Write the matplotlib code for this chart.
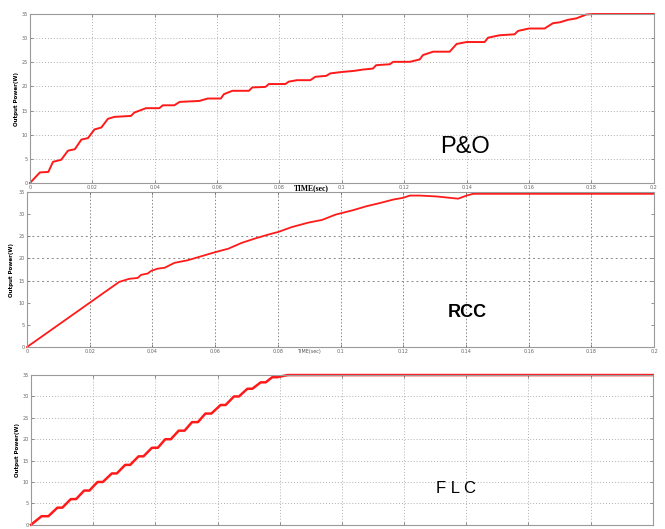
import numpy as np
import matplotlib
matplotlib.use('Agg')
import matplotlib.pyplot as plt

# P&O output power (W) vs time (s)
po_t = [0, 0.0032, 0.0059, 0.0074, 0.010, 0.0122, 0.0144, 0.0165, 0.0186, 0.0207,
        0.0229, 0.025, 0.0271, 0.0324, 0.0335, 0.0372, 0.0415, 0.0426, 0.0463, 0.048,
        0.0543, 0.057, 0.0612, 0.0622, 0.0649, 0.0702, 0.0713, 0.0755, 0.0766, 0.0819,
        0.083, 0.0856, 0.0899, 0.0915, 0.095, 0.0963, 0.1, 0.1036, 0.1068, 0.110,
        0.111, 0.1154, 0.1165, 0.1218, 0.125, 0.126, 0.1293, 0.1346, 0.1368, 0.14,
        0.1458, 0.1469, 0.1506, 0.1554, 0.1565, 0.160, 0.165, 0.1677, 0.170, 0.1725,
        0.1752, 0.1784, 0.1805, 0.2]
po_p = [0, 2.2, 2.3, 4.4, 4.8, 6.7, 7.0, 9.0, 9.3, 11.1,
        11.5, 13.3, 13.7, 13.9, 14.6, 15.5, 15.5, 16.1, 16.1, 16.8,
        17.0, 17.5, 17.5, 18.4, 19.1, 19.1, 19.8, 19.9, 20.5, 20.5,
        21.0, 21.3, 21.3, 22.0, 22.2, 22.7, 23.0, 23.2, 23.5, 23.7,
        24.4, 24.6, 25.1, 25.1, 25.6, 26.5, 27.2, 27.2, 28.8, 29.2,
        29.2, 30.1, 30.6, 30.8, 31.5, 32.0, 32.0, 33.1, 33.3, 33.8,
        34.1, 34.9, 35.0, 35.0]

# RCC
rcc_t = [0, 0.0198, 0.0294, 0.0326, 0.0353, 0.0364, 0.0385, 0.0396, 0.0417, 0.0439,
         0.047, 0.0513, 0.0556, 0.0599, 0.0642, 0.0684, 0.0727, 0.077, 0.0802, 0.0845,
         0.0898, 0.0941, 0.0984, 0.104, 0.1083, 0.1125, 0.1168, 0.12, 0.1221, 0.1253,
         0.1306, 0.1375, 0.1402, 0.1423, 0.2]
rcc_p = [0, 9.9, 14.7, 15.4, 15.6, 16.3, 16.6, 17.2, 17.7, 17.9,
         19.0, 19.6, 20.5, 21.4, 22.2, 23.5, 24.5, 25.4, 26.0, 27.1,
         28.1, 28.7, 29.9, 30.9, 31.8, 32.5, 33.3, 33.7, 34.2, 34.2,
         34.0, 33.5, 34.2, 34.6, 34.6]

# FLC
flc_t = [0, 0.0034, 0.0056, 0.0085, 0.0101, 0.0128, 0.0145, 0.0171, 0.0188, 0.0214,
         0.0231, 0.026, 0.0276, 0.0303, 0.0319, 0.0346, 0.0362, 0.0389, 0.0408, 0.0432,
         0.045, 0.0475, 0.0494, 0.0518, 0.0537, 0.0561, 0.058, 0.061, 0.0626, 0.0653,
         0.0669, 0.0696, 0.0712, 0.0739, 0.0755, 0.0776, 0.0792, 0.0825, 0.2]
flc_p = [0, 2, 2, 4, 4, 6, 6, 8, 8, 10,
         10, 12, 12, 14, 14, 16, 16, 18, 18, 20,
         20, 22, 22, 24, 24, 26, 26, 28, 28, 30,
         30, 31.8, 31.8, 33.3, 33.3, 34.5, 34.5, 35, 35]

x_ticks = [0, 0.02, 0.04, 0.06, 0.08, 0.1, 0.12, 0.14, 0.16, 0.18, 0.2]
x_labels = ['0', '0.02', '0.04', '0.06', '0.08', '0.1', '0.12', '0.14', '0.16', '0.18', '0.2']
y_ticks = [0, 5, 10, 15, 20, 25, 30, 35]

fig = plt.figure(figsize=(6.65, 5.29), dpi=100)

ax1 = fig.add_axes([0.045, 0.654, 0.938, 0.3195])
ax2 = fig.add_axes([0.0406, 0.344, 0.943, 0.293])
ax3 = fig.add_axes([0.0466, 0.008, 0.935, 0.283])


def style(ax):
    ax.set_xlim(0, 0.2)
    ax.set_ylim(0, 35)
    ax.set_xticks(x_ticks)
    ax.set_xticklabels(x_labels)
    ax.set_yticks(y_ticks)
    ax.tick_params(labelsize=3.5, colors='#666666', length=2, width=0.5,
                   direction='in', pad=1.5, top=True, right=True)
    for s in ax.spines.values():
        s.set_color('#9a9a9a')
        s.set_linewidth(0.8)


for ax in (ax1, ax3):
    style(ax)
    ax.grid(True, color='#b0b0b0', linestyle=(0, (1, 2)), linewidth=0.7)
    ax.set_ylabel('Output Power(W)', fontsize=4, fontweight='bold', labelpad=2)

# the bottom plot's x tick labels fall below the picture edge in the reference
ax3.tick_params(labelbottom=False)

style(ax2)
ax2.xaxis.grid(True, color='#888888', linestyle=(0, (1.5, 2)), linewidth=0.7)
for yv in [15, 20, 25]:
    ax2.axhline(yv, color='#888888', linestyle=(0, (2, 3)), linewidth=0.7, zorder=0)
ax2.set_ylabel('Output Power(W)', fontsize=4, fontweight='bold', labelpad=3)

ax1.plot(po_t, po_p, color='#ff1a1a', linewidth=1.4, clip_on=False)
ax2.plot(rcc_t, rcc_p, color='#ff1a1a', linewidth=1.3, clip_on=False)
ax3.plot(flc_t, flc_p, color='#ff1a1a', linewidth=1.8, clip_on=False)

ax1.set_xlabel('TIME(sec)', fontsize=5.5, fontweight='bold', family='Liberation Serif')
ax1.xaxis.set_label_coords(0.452, -0.005)
ax2.set_xlabel('TIME(sec)', fontsize=3.5, color='#555555')
ax2.xaxis.set_label_coords(0.45, -0.015)

ax1.text(0.698, 0.215, 'P&O', transform=ax1.transAxes, fontsize=17,
         ha='center', va='center', family='Liberation Sans')
ax2.text(0.702, 0.22, 'RCC', transform=ax2.transAxes, fontsize=13,
         fontweight='bold', ha='center', va='center', family='Liberation Sans')
ax3.text(0.683, 0.24, 'F L C', transform=ax3.transAxes, fontsize=12,
         ha='center', va='center', family='Liberation Sans')

fig.savefig('out.png', dpi=100)
